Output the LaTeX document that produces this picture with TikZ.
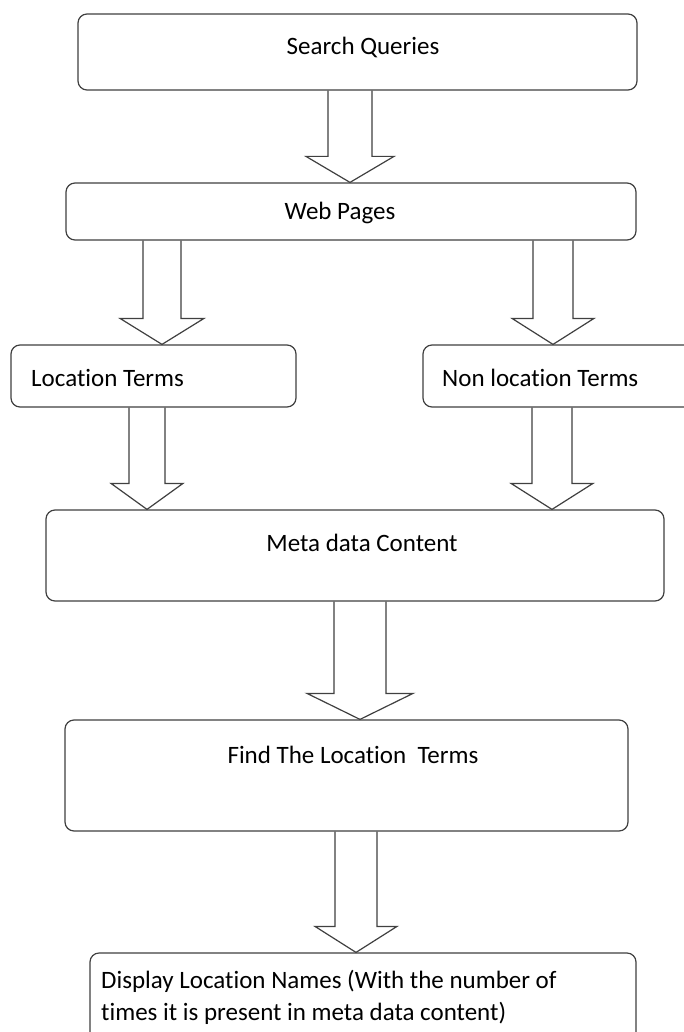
\documentclass[tikz,border=0pt]{standalone}
\usepackage{fontspec}
\setmainfont{Carlito}[Ligatures=NoCommon]
\usetikzlibrary{calc}

% hollow block arrow: source node, target node, x, half shaft width, half head width
\newcommand{\hollowarrow}[5]{%
  \draw[hollow] let \p1=(#1.south), \p2=(#2.north) in
    ({#3pt-#4pt},\y1) -- ({#3pt-#4pt},\y2+26pt) -- ({#3pt-#5pt},\y2+26pt)
    -- (#3pt,\y2) -- ({#3pt+#5pt},\y2+26pt) -- ({#3pt+#4pt},\y2+26pt)
    -- ({#3pt+#4pt},\y1);}

\begin{document}
\begin{tikzpicture}[x=1pt,y=-1pt,
  box/.style={draw=black!75,line width=1.2pt,rounded corners=9pt,inner sep=0pt},
  tag/.style={font=\fontsize{25}{32}\selectfont,inner sep=0pt},
  hollow/.style={draw=black!75,line width=1.2pt,line join=miter}]

\useasboundingbox[fill=white] (0,0) rectangle (683,1032);

% boxes
\node[box,minimum width=559pt,minimum height=76pt] (query) at (357.5,52) {};
\node[box,minimum width=570pt,minimum height=57pt] (pages) at (351,211.5) {};
\node[box,minimum width=285pt,minimum height=62pt] (loc) at (153.5,376) {};
\node[box,minimum width=277pt,minimum height=62pt] (nonloc) at (561.5,376) {};
\node[box,minimum width=618pt,minimum height=91pt] (meta) at (355,555.5) {};
\node[box,minimum width=563pt,minimum height=111pt] (find) at (346.5,775.5) {};
\node[box,minimum width=546pt,minimum height=92pt] (show) at (363,999) {};

% texts
\node[tag] (query-t) at (363,47) {Search Queries};
\node[tag] (pages-t) at (340,213) {Web Pages};
\node[tag,anchor=west] (loc-t) at (31,378) {Location Terms};
\node[tag,anchor=west] (nonloc-t) at (442,378) {Non location Terms};
\node[tag] (meta-t) at (362,543) {Meta data Content};
\node[tag] (find-t) at (353,755) {Find The Location\ \ Terms};
\node[tag,anchor=north west,align=left] (show-t) at (101,970)
  {Display Location Names (With the number of\\times it is present in meta data content)};

% arrows
\hollowarrow{query}{pages}{350}{22}{44}
\hollowarrow{pages}{loc}{162}{19}{42}
\hollowarrow{pages}{nonloc}{553}{20}{41}
\hollowarrow{loc}{meta}{147}{18}{36}
\hollowarrow{nonloc}{meta}{552}{20}{41}
\hollowarrow{meta}{find}{360}{26}{53}
\hollowarrow{find}{show}{356}{21}{41}
\end{tikzpicture}
\end{document}
